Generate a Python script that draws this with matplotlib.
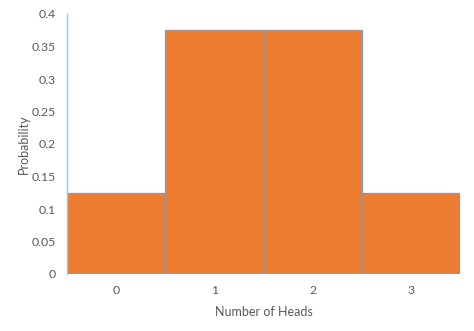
import matplotlib
matplotlib.use("Agg")
import matplotlib.pyplot as plt

heads = [0, 1, 2, 3]
probability = [0.125, 0.375, 0.375, 0.125]
y_ticks = [0, 0.05, 0.1, 0.15, 0.2, 0.25, 0.3, 0.35, 0.4]
y_tick_labels = ["0", "0.05", "0.1", "0.15", "0.2", "0.25", "0.3", "0.35", "0.4"]

plt.rcParams['font.family'] = ['Lato', 'DejaVu Sans']

fig = plt.figure(figsize=(4.74, 3.31), dpi=100)
ax = fig.add_axes([67/474, 57/331, (460-67)/474, (274-14)/331])

ax.bar(heads, probability, width=1.0, color='#ED7D31', edgecolor='#6F9FD0', linewidth=0.9)

ax.set_xlim(-0.5, 3.5)
ax.set_ylim(0, 0.4)
ax.set_yticks(y_ticks)
ax.set_yticklabels(y_tick_labels)
ax.set_xticks(heads)
ax.set_xticklabels([str(h) for h in heads])

for s in ['top', 'right', 'bottom']:
    ax.spines[s].set_visible(False)
ax.spines['left'].set_color('#9DC3E6')
ax.spines['left'].set_linewidth(1.0)

ax.tick_params(axis='both', length=0, labelsize=8.8, colors='#595959')
ax.tick_params(axis='y', pad=8)
ax.tick_params(axis='x', pad=8)

ax.set_xlabel('Number of Heads', fontsize=9, color='#595959', labelpad=7)
ax.set_ylabel('Probability', fontsize=9, color='#595959', labelpad=1.5)

fig.savefig('out.png', dpi=100)
